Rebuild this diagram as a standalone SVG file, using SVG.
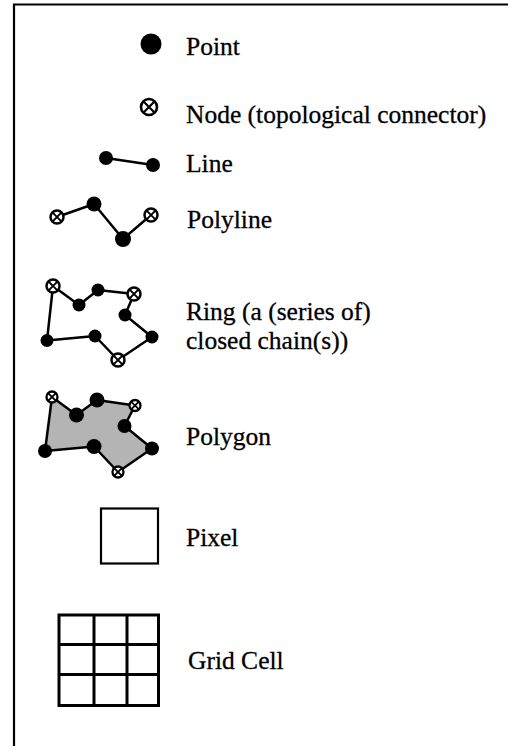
<svg xmlns="http://www.w3.org/2000/svg" width="508" height="746" viewBox="0 0 508 746">
  <defs>
    <style>
      .frame { fill: none; stroke: #000; stroke-width: 2.2; }
      .edge { fill: none; stroke: #000; stroke-width: 2.5; stroke-linejoin: round; }
      .area { fill: #b4b4b4; stroke: #000; stroke-width: 2.5; stroke-linejoin: round; }
      .dot { fill: #000; }
      .box { fill: none; stroke: #000; stroke-width: 2.2; }
      .grid { fill: none; stroke: #000; stroke-width: 3; }
      .label { font-family: "Liberation Serif", "Times New Roman", serif; font-size: 25.5px; fill: #000; stroke: #000; stroke-width: 0.3; }
    </style>
    <!-- topological node: open circle with a diagonal cross -->
    <g id="node">
      <circle r="6.5" fill="#fff" stroke="#000" stroke-width="2.5"/>
      <path d="M-4.6,-4.6 L4.6,4.6 M4.6,-4.6 L-4.6,4.6" stroke="#000" stroke-width="2"/>
    </g>
    <g id="nodeSm">
      <circle r="5.5" fill="#fff" stroke="#000" stroke-width="2.3"/>
      <path d="M-3.9,-3.9 L3.9,3.9 M3.9,-3.9 L-3.9,3.9" stroke="#000" stroke-width="1.8"/>
    </g>
  </defs>

  <rect width="508" height="746" fill="#fff"/>

  <!-- legend frame (open on the right and bottom) -->
  <path class="frame" d="M508,4.5 H14 V746"/>

  <!-- connectors -->
  <g id="connectors">
    <path class="edge" d="M106,158 L153,165"/>
    <path class="edge" d="M57,217 L94,204 L123,239 L151,215"/>
    <path class="edge" d="M53,286 L79,305 L98,290 L134,294 L125,315 L152,337 L118,360 L95,336 L47,340.5 Z"/>
    <path class="area" d="M52,397 L76.5,415 L97,400 L135,405.5 L124.5,426 L152,448.5 L118,472 L94,446.5 L45,451 Z"/>
  </g>

  <g id="point">
    <circle class="dot" cx="151" cy="44" r="10.5"/>
    <text class="label" x="186" y="55">Point</text>
  </g>

  <g id="node-symbol">
    <circle cx="149" cy="107" r="8" fill="#fff" stroke="#000" stroke-width="2.6"/>
    <path d="M143.3,101.3 L154.7,112.7 M154.7,101.3 L143.3,112.7" stroke="#000" stroke-width="2.2"/>
    <text class="label" x="186" y="123">Node (topological connector)</text>
  </g>

  <g id="line">
    <circle class="dot" cx="106" cy="158" r="7"/>
    <circle class="dot" cx="153" cy="165" r="7"/>
    <text class="label" x="186" y="172">Line</text>
  </g>

  <g id="polyline">
    <use href="#node" x="57" y="217"/>
    <circle class="dot" cx="94" cy="204" r="7.5"/>
    <circle class="dot" cx="123" cy="239" r="8"/>
    <use href="#node" x="151" y="215"/>
    <text class="label" x="187" y="228">Polyline</text>
  </g>

  <g id="ring">
    <use href="#node" x="53" y="286"/>
    <circle class="dot" cx="79" cy="305" r="6.5"/>
    <circle class="dot" cx="98" cy="290" r="6.5"/>
    <use href="#node" x="134" y="294"/>
    <circle class="dot" cx="125" cy="315" r="6.5"/>
    <circle class="dot" cx="152" cy="337" r="6.5"/>
    <use href="#node" x="118" y="360"/>
    <circle class="dot" cx="95" cy="336" r="6.5"/>
    <circle class="dot" cx="47" cy="340.5" r="6.5"/>
    <text class="label" x="186" y="320">Ring (a (series of)</text>
    <text class="label" x="186" y="349">closed chain(s))</text>
  </g>

  <g id="polygon">
    <use href="#nodeSm" x="52" y="397"/>
    <circle class="dot" cx="76.5" cy="415" r="7.5"/>
    <circle class="dot" cx="97" cy="400" r="7.5"/>
    <use href="#nodeSm" x="135" y="405.5"/>
    <circle class="dot" cx="124.5" cy="426" r="7"/>
    <circle class="dot" cx="152" cy="448.5" r="7"/>
    <use href="#nodeSm" x="118" y="472"/>
    <circle class="dot" cx="94" cy="446.5" r="7.5"/>
    <circle class="dot" cx="45" cy="451" r="7"/>
    <text class="label" x="186" y="445">Polygon</text>
  </g>

  <g id="pixel">
    <rect class="box" x="101" y="508.5" width="57" height="55"/>
    <text class="label" x="186" y="546">Pixel</text>
  </g>

  <g id="grid-cell">
    <rect class="grid" x="59" y="615" width="99.5" height="90.5"/>
    <path class="grid" d="M94,615 V705.5 M127,615 V705.5 M59,644.5 H158.5 M59,674.5 H158.5"/>
    <text class="label" x="188" y="669">Grid Cell</text>
  </g>
</svg>
